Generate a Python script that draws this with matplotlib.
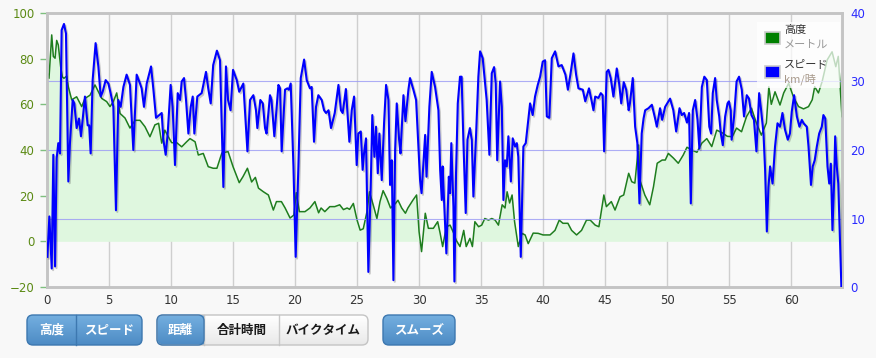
import numpy as np
import matplotlib
matplotlib.use("Agg")
import matplotlib.pyplot as plt
from matplotlib.patches import FancyBboxPatch, Rectangle
import matplotlib.patheffects as pe

# ---------------- data ----------------
elev_km = [0.0, 0.16, 0.38, 0.51, 0.65, 0.78, 0.91, 1.1, 1.24, 1.37, 1.59, 1.72, 1.99, 2.39, 2.8,
           3.06, 3.47, 3.87, 4.14, 4.41, 4.81, 5.08, 5.35, 5.62, 5.89, 6.29, 6.69, 7.1, 7.5, 7.9,
           8.3, 8.7, 9.0, 9.25, 9.5, 9.78, 10.05, 10.46, 10.86, 11.26, 11.53, 11.94, 12.2, 12.6,
           13.0, 13.4, 13.7, 14.1, 14.6, 15.0, 15.5, 15.8, 16.16, 16.5, 16.8, 17.05, 17.45, 17.85,
           18.25, 18.5, 18.9, 19.2, 19.6, 19.9, 20.1, 20.35, 20.8, 21.2, 21.6, 21.9, 22.1, 22.4,
           22.8, 23.2, 23.6, 23.9, 24.2, 24.4, 24.7, 25.0, 25.25, 25.5, 25.8, 26.0, 26.3, 26.6,
           26.85, 27.1, 27.4, 27.7, 28.1, 28.3, 28.6, 28.9, 29.1, 29.5, 29.8, 30.0, 30.2, 30.5,
           30.75, 31.15, 31.5, 31.7, 31.9, 32.2, 32.5, 32.8, 33.0, 33.3, 33.6, 33.8, 34.1, 34.3,
           34.5, 34.8, 35.05, 35.3, 35.6, 35.86, 36.13, 36.4, 36.7, 36.93, 37.1, 37.3, 37.5, 37.7,
           38.0, 38.3, 38.55, 38.8, 39.2, 39.6, 40.0, 40.56, 40.96, 41.3, 41.6, 42.0, 42.3, 42.7,
           43.1, 43.5, 43.8, 44.2, 44.5, 44.9, 45.1, 45.5, 45.8, 46.2, 46.5, 46.9, 47.15, 47.4,
           47.7, 47.8, 48.2, 48.6, 48.9, 49.2, 49.6, 49.85, 50.1, 50.5, 50.9, 51.3, 51.6, 52.0,
           52.4, 52.8, 53.2, 53.6, 54.0, 54.45, 54.85, 55.25, 55.6, 56.0, 56.4, 56.8, 57.2, 57.6,
           58.0, 58.2, 58.4, 58.7, 59.1, 59.4, 59.8, 60.2, 60.6, 61.0, 61.4, 61.7, 61.9, 62.2,
           62.5, 62.9, 63.3, 63.6, 63.8, 64.1]
elev_m = [74.3, 71.4, 90.4, 81, 80.2, 88, 86, 76.5, 72, 71.4, 72.4, 67.7, 62, 63.3, 59,
          62.6, 64, 68.5, 65.5, 62.6, 61.2, 59, 61.2, 65, 56, 54, 49.6, 53, 53, 50.2,
          45.8, 51, 51.7, 43, 48.7, 45.8, 43.2, 43.2, 41.4, 43.6, 45, 43.6, 37.8, 38.5,
          32.7, 32, 32, 38.7, 39.3, 32.7, 25.7, 28.3, 32, 26, 28, 23.3, 21.7, 20.3,
          13.7, 17.4, 17.4, 14.6, 10.2, 11.5, 21.3, 13, 13, 14.6, 17.4, 12.5, 14.6, 13,
          15.2, 15.2, 16, 13.9, 14.6, 14, 16.6, 9.3, 4.9, 5.5, 13, 21.7, 16, 10,
          17.4, 22.2, 18.8, 14.6, 16.6, 18, 14.6, 12.3, 14.6, 18, 20.3, 4.2, -4.5, 12.3,
          5.7, 5.7, 8.6, 3.5, -2.3, 6.4, 7.1, 3.5, 0.4, -2.3, 4.8, -2.3, 1.3, -2.3,
          8.6, 6.4, 7.1, 10, 9.3, 10, 9.3, 7.1, 16, 14.6, 21.7, 16.8, 20.3, 8.6,
          -2.3, 3.5, 2.8, -1, 3.6, 3.5, 2.8, 2.8, 4.8, 9.3, 7.9, 7.9, 4.8, 2.8,
          4.8, 9.3, 9.3, 7.1, 6.4, 20.3, 15.2, 17.4, 13.7, 19.5, 20.3, 29.8, 26.1, 25.5,
          42.2, 26.9, 20.3, 16, 23.9, 34.2, 35.6, 35.6, 38.5, 36.5, 34.2, 37.8, 41.2, 40,
          39, 43, 45, 41.5, 48.7, 47.5, 46, 45.8, 49.6, 48, 54.6, 58.3, 51.8, 46.5,
          51.8, 67.7, 60, 65.5, 59.7, 65, 69.2, 63, 59, 58, 59, 62, 67.7, 65,
          70, 79.4, 83, 76.5, 81, 54.6]

speed_km = [0.03, 0.19, 0.38, 0.51, 0.65, 0.78, 0.91, 1.05, 1.18, 1.37, 1.53, 1.72, 1.85, 2.07, 2.2,
            2.39, 2.58, 2.74, 3.06, 3.28, 3.4, 3.52, 3.68, 3.92, 4.14, 4.33, 4.49, 4.73, 4.95, 5.13,
            5.35, 5.56, 5.75, 5.94, 6.16, 6.42, 6.69, 6.96, 7.23, 7.5, 7.63, 7.82, 8.04, 8.39, 8.58,
            8.79, 9.06, 9.25, 9.38, 9.57, 9.73, 9.97, 10.13, 10.32, 10.54, 10.73, 10.86, 11.05, 11.21,
            11.4, 11.59, 11.75, 11.88, 12.12, 12.47, 12.82, 13.0, 13.2, 13.4, 13.7, 13.95, 14.22, 14.43,
            14.6, 14.8, 15.0, 15.3, 15.5, 15.83, 16.16, 16.37, 16.64, 16.85, 16.96, 17.2, 17.4, 17.58,
            17.7, 17.98, 18.1, 18.33, 18.66, 18.79, 18.92, 19.19, 19.38, 19.5, 19.65, 19.87, 20.05, 20.27,
            20.46, 20.73, 20.94, 21.2, 21.34, 21.53, 21.69, 21.88, 22.15, 22.34, 22.5, 22.7, 22.9, 23.04,
            23.2, 23.5, 23.7, 23.84, 24.1, 24.38, 24.57, 24.76, 24.97, 25.1, 25.3, 25.45, 25.56, 25.72,
            25.91, 26.1, 26.23, 26.4, 26.53, 26.67, 26.8, 26.99, 27.18, 27.34, 27.53, 27.66, 27.8, 27.93,
            28.07, 28.2, 28.39, 28.5, 28.74, 28.9, 29.14, 29.27, 29.54, 29.76, 29.95, 30.08, 30.2, 30.49,
            30.6, 30.83, 31.02, 31.29, 31.56, 31.7, 31.83, 31.9, 32.0, 32.2, 32.4, 32.5, 32.6, 32.77,
            32.85, 32.98, 33.12, 33.3, 33.43, 33.57, 33.76, 33.9, 34.1, 34.25, 34.38, 34.6, 34.78, 34.92,
            35.13, 35.45, 35.67, 35.86, 36.05, 36.18, 36.3, 36.53, 36.67, 36.8, 36.93, 37.07, 37.2, 37.4,
            37.55, 37.74, 37.88, 38.0, 38.2, 38.41, 38.6, 38.8, 38.95, 39.16, 39.35, 39.57, 39.76, 39.97,
            40.16, 40.3, 40.5, 40.7, 40.97, 41.24, 41.5, 41.8, 42.0, 42.2, 42.45, 42.66, 42.85, 43.2,
            43.4, 43.7, 43.92, 44.06, 44.2, 44.46, 44.65, 44.8, 44.92, 45.13, 45.27, 45.45, 45.67, 45.94,
            46.13, 46.3, 46.5, 46.7, 46.9, 47.0, 47.23, 47.42, 47.6, 47.77, 47.95, 48.1, 48.23, 48.5,
            48.77, 49.03, 49.17, 49.43, 49.6, 49.84, 50.24, 50.5, 50.73, 51.0, 51.18, 51.37, 51.6, 51.77,
            51.91, 52.07, 52.26, 52.45, 52.6, 52.8, 53.0, 53.2, 53.4, 53.55, 53.68, 53.87, 54.0, 54.2,
            54.33, 54.49, 54.68, 54.87, 54.98, 55.13, 55.2, 55.4, 55.6, 55.8, 56.02, 56.2, 56.42, 56.6,
            56.8, 57.0, 57.2, 57.42, 57.58, 57.77, 57.9, 58.04, 58.17, 58.3, 58.5, 58.7, 58.9, 59.1,
            59.3, 59.5, 59.73, 59.9, 60.05, 60.24, 60.46, 60.67, 60.86, 61.0, 61.26, 61.4, 61.6, 61.74,
            61.9, 62.07, 62.26, 62.47, 62.6, 62.75, 62.93, 63.07, 63.2, 63.33, 63.47, 63.55, 63.68, 63.8,
            64.05]
speed_kmh = [4.4, 10.3, 2.7, 19.3, 3.0, 18.8, 21, 19.5, 37.5, 38.4, 37, 15.4, 21, 27.3, 26.8,
             23.2, 24.6, 22, 27.8, 23.6, 23.6, 19.5, 30.2, 35.6, 32.2, 27.8, 28.5, 30.2, 29.7, 28.3,
             26.3, 11.2, 27.3, 26.3, 29.2, 31, 29.5, 20, 31, 29.7, 29, 26.3, 29.7, 32.2, 28.8,
             24.7, 25.1, 25.4, 21.5, 19.3, 22.4, 29.5, 26.3, 17.8, 28.3, 27.3, 30, 30.5, 27.3,
             22.4, 26.3, 27.8, 22.4, 27.8, 28.3, 31.4, 29, 26.8, 32.4, 34.5, 33.1, 14.6, 32.2,
             27.3, 25.8, 31.7, 30.2, 28.5, 29.7, 19.8, 27.3, 28, 25.8, 23.2, 27.3, 26.8, 23.2,
             22.4, 28, 27.3, 22, 29.5, 29, 19.8, 28.8, 29, 28.8, 29.7, 17.6, 4.4, 17.6,
             30.5, 33.2, 30.2, 29, 29.2, 21.2, 26.3, 28, 27.3, 25.8, 25.4, 25.8, 23.2, 24.2,
             25.4, 29.5, 25.8, 25.4, 28.9, 21.2, 25.8, 27.8, 17.8, 22.4, 22.7, 17.1, 19.5, 21.7,
             2.2, 14.6, 25.1, 19, 23.4, 16.6, 22.4, 15.6, 24, 29.5, 27.3, 14.9, 18.5, 1.0,
             20, 26.8, 21.5, 19.5, 28, 24.2, 28.8, 30.5, 28.8, 27.3, 20.5, 15.6, 13.7, 22.2,
             16.1, 26.3, 31.4, 29.2, 25.8, 17.1, 12.7, 17.6, 13.2, 4.9, 16.1, 13.7, 21, 11.7,
             0.8, 16.6, 26.8, 30.7, 30.7, 21.5, 10.8, 21.5, 23.2, 21.5, 13.2, 22.4, 30.7, 34.4,
             33.4, 27.3, 19.3, 31.2, 32.1, 29.7, 18.5, 30, 26.3, 12.7, 18.5, 17.6, 22, 15.4,
             21.7, 20.5, 21, 19, 4.4, 20.5, 21, 24.4, 26.8, 25.1, 27.8, 29.5, 30.7, 32.9,
             33.1, 24.9, 24.7, 33.4, 34.4, 32.2, 32.4, 31, 28.8, 31, 34.1, 31, 29, 28.8,
             27.1, 29, 27.1, 25.8, 27.8, 27.6, 28.3, 28, 19.8, 31.4, 31.7, 30.5, 27.8, 31.9,
             29.7, 26.8, 29.9, 28.8, 25.8, 26.8, 30.5, 23.4, 21, 12.2, 22.4, 24.6, 25.8, 26.1,
             26.6, 24.6, 23.4, 26.1, 24.4, 26.3, 27.5, 25.8, 22.7, 26.1, 25.1, 25.4, 24, 25.4,
             12.2, 25.8, 27.3, 24.4, 20.2, 29.2, 30.7, 30.2, 23.4, 22.4, 28.3, 30.5, 27.3, 24.9,
             22.4, 20.7, 24.9, 26.8, 27.1, 25.8, 21.5, 24.9, 30, 30.7, 28.8, 24.9, 28, 27.5,
             25.1, 24.4, 19.8, 28.3, 25.8, 22.4, 17.1, 8.1, 14.6, 17.6, 15.1, 20.5, 23.9, 23.4,
             25.4, 23, 21.5, 22.4, 25.6, 28, 24.9, 23.4, 24.4, 23.9, 23.4, 20.5, 14.9, 17.6,
             18.5, 20.5, 22.4, 23.4, 25.1, 24.6, 17.6, 15.1, 18, 8.3, 15.6, 22, 17.6, 15.1,
             0]

x_ticks = [0, 5, 10, 15, 20, 25, 30, 35, 40, 45, 50, 55, 60]
elev_ticks = [-20, 0, 20, 40, 60, 80, 100]
speed_ticks = [0, 10, 20, 30, 40]

legend_title1, legend_unit1 = "高度", "メートル"
legend_title2, legend_unit2 = "スピード", "km/時"
group1 = ["高度", "スピード"]
group2 = ["距離", "合計時間", "バイクタイム"]
group3 = ["スムーズ"]

# ---------------- style ----------------
JP = ["Noto Sans CJK JP", "DejaVu Sans"]
plt.rcParams["font.family"] = ["DejaVu Sans", "Noto Sans CJK JP"]

W, H = 876, 358
fig = plt.figure(figsize=(W / 100, H / 100), dpi=100, facecolor="#f8f8f8")

L, R, T, B = 47, 842, 13, 287
ax = fig.add_axes([L / W, (H - B) / H, (R - L) / W, (B - T) / H])
ax.set_facecolor("#f9f9f9")
ax.set_xlim(0, 64.1)
ax.set_ylim(-20, 100)

ax.fill_between(elev_km, 0, elev_m, color="#dff7df", lw=0, zorder=1)
ax.plot(elev_km, elev_m, color="#1e7d1e", lw=1.1, zorder=3)

ax.set_xticks(x_ticks)
ax.set_yticks(elev_ticks)
ax.xaxis.grid(True, color="#cfcfcf", lw=1)
ax.set_axisbelow(True)
ax.tick_params(axis="x", length=0, pad=5, labelsize=8.5, labelcolor="#333333")
ax.tick_params(axis="y", length=5, width=1, color="#7fbf7f", pad=4, labelsize=8.5,
               labelcolor="#5b8a14")
for s in ax.spines.values():
    s.set_color("#c4c4c4")
    s.set_linewidth(1.8)

ax2 = ax.twinx()
ax2.set_ylim(0, 40)
ax2.set_yticks(speed_ticks)
ax2.yaxis.grid(True, color="#9a9af5", lw=0.8, alpha=0.8)
ax2.tick_params(axis="y", length=0, pad=6, labelsize=8.5, labelcolor="#2a2aff")
for s in ax2.spines.values():
    s.set_color("#c4c4c4")
    s.set_linewidth(1.8)
ax2.plot(speed_km, speed_kmh, color="#0000ff", lw=1.5, zorder=4,
         path_effects=[pe.SimpleLineShadow(offset=(1, -1.2), alpha=0.25, shadow_color="#333333"),
                       pe.Normal()])

# ---------------- overlay (legend + buttons) ----------------
ov = fig.add_axes([0, 0, 1, 1], zorder=10)
ov.set_xlim(0, W)
ov.set_ylim(H, 0)
ov.axis("off")
ov.patch.set_alpha(0)

# legend
ov.add_patch(Rectangle((757, 22), 83, 66, facecolor="white", alpha=0.72, lw=0))
ov.add_patch(Rectangle((765, 32), 15, 12, facecolor="#008000", edgecolor="#cccccc", lw=1.2))
ov.add_patch(Rectangle((765, 66), 15, 12, facecolor="#0000ff", edgecolor="#cccccc", lw=1.2))
ov.text(784, 30, legend_title1, family=JP, fontsize=8, color="#333333", va="center")
ov.text(784, 45, legend_unit1, family=JP, fontsize=8, color="#999999", va="center")
ov.text(784, 64, legend_title2, family=JP, fontsize=8, color="#333333", va="center")
ov.text(784, 79, legend_unit2, family=JP, fontsize=8, color="#a89a8c", va="center")


def grad(top, bottom):
    c1 = np.array(matplotlib.colors.to_rgb(top))
    c2 = np.array(matplotlib.colors.to_rgb(bottom))
    t = np.linspace(0, 1, 64)[:, None, None]
    return c1 * (1 - t) + c2 * t


BLUE = ("#74afe0", "#4d8bc4")
WHITE = ("#ffffff", "#e9e9e9")


def button_group(x0, widths, labels, selected, y0=315, h=30):
    total = sum(widths)
    shape = FancyBboxPatch((x0, y0), total, h, boxstyle="round,pad=0,rounding_size=6",
                           facecolor="none", edgecolor="none", lw=0)
    ov.add_patch(shape)
    x = x0
    for i, (w, lab) in enumerate(zip(widths, labels)):
        sel = selected[i]
        g = grad(*(BLUE if sel else WHITE))
        im = ov.imshow(g, extent=(x, x + w, y0 + h, y0), aspect="auto", zorder=2,
                       interpolation="bilinear")
        im.set_clip_path(shape)
        ov.text(x + w / 2, y0 + h / 2 + 0.5, lab, family=JP, fontsize=9, fontweight="bold",
                color="white" if sel else "#1a1a1a", ha="center", va="center", zorder=4)
        if i > 0:
            dc = "#3d78b0" if (sel and selected[i - 1]) else "#c8c8c8"
            ov.plot([x, x], [y0, y0 + h], color=dc, lw=1, zorder=3)
        x += w
    edge = "#3d78b0" if all(selected) else "#c4c4c4"
    border = FancyBboxPatch((x0, y0), total, h, boxstyle="round,pad=0,rounding_size=6",
                            facecolor="none", edgecolor=edge, lw=1, zorder=5)
    ov.add_patch(border)
    if not all(selected):
        w0 = widths[0]
        ov.add_patch(FancyBboxPatch((x0, y0), w0, h, boxstyle="round,pad=0,rounding_size=6",
                                    facecolor="none", edgecolor="#3d78b0", lw=1, zorder=5))


button_group(27, [49, 66], group1, [True, True])
button_group(157, [47, 75, 89], group2, [True, False, False])
button_group(383, [72], group3, [True])

ov.set_xlim(0, W)
ov.set_ylim(H, 0)

fig.savefig("out.png", dpi=100, facecolor=fig.get_facecolor())
